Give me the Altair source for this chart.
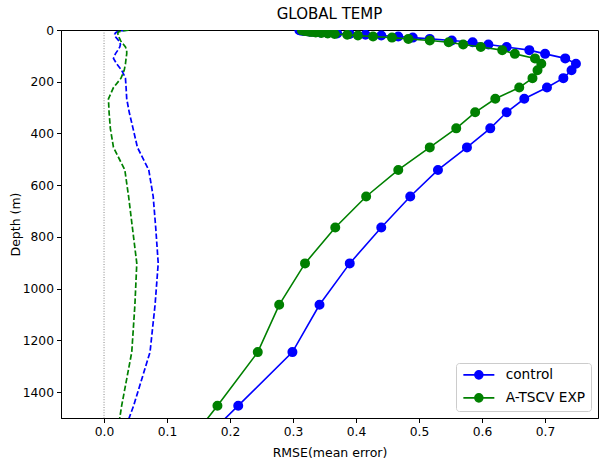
import altair as alt
import pandas as pd

depth = [0.5, 1.5, 2.6, 3.8, 5.1, 6.4, 7.9, 9.6, 11.4, 13.5, 15.8, 18.5, 21.6, 25.2,
         29.4, 34.4, 40.3, 47.4, 55.8, 65.8, 77.9, 92.3, 109.7, 130.7, 155.9, 186.1,
         222.5, 266.0, 318.1, 380.2, 453.9, 541.1, 643.6, 763.3, 902.3, 1062.4,
         1245.3, 1452.3, 1684.3]

control_rmse = [0.31, 0.312, 0.315, 0.318, 0.322, 0.327, 0.334, 0.343, 0.355, 0.37,
                0.39, 0.415, 0.44, 0.467, 0.49, 0.517, 0.552, 0.585, 0.61, 0.639,
                0.675, 0.70, 0.732, 0.749, 0.742, 0.729, 0.703, 0.667, 0.639, 0.613,
                0.576, 0.53, 0.486, 0.44, 0.39, 0.342, 0.299, 0.213, 0.116]

exp_rmse = [0.314, 0.316, 0.318, 0.32, 0.323, 0.326, 0.33, 0.336, 0.345, 0.355,
            0.366, 0.386, 0.403, 0.427, 0.457, 0.483, 0.517, 0.547, 0.57, 0.598,
            0.632, 0.652, 0.684, 0.694, 0.688, 0.68, 0.659, 0.621, 0.589, 0.559,
            0.517, 0.467, 0.416, 0.367, 0.319, 0.278, 0.244, 0.18, 0.106]

control_me = [0.036, 0.033, 0.030, 0.027, 0.024, 0.022, 0.020, 0.019, 0.018, 0.018,
              0.017, 0.017, 0.017, 0.018, 0.019, 0.021, 0.023, 0.025, 0.026, 0.025,
              0.022, 0.018, 0.015, 0.020, 0.028, 0.034, 0.035, 0.036, 0.040, 0.046,
              0.053, 0.071, 0.078, 0.082, 0.086, 0.081, 0.073, 0.047, 0.012]

exp_me = [0.039, 0.035, 0.031, 0.028, 0.026, 0.024, 0.023, 0.022, 0.022, 0.022,
          0.022, 0.023, 0.023, 0.023, 0.024, 0.025, 0.026, 0.028, 0.031, 0.034,
          0.036, 0.036, 0.035, 0.034, 0.032, 0.027, 0.015, 0.007, 0.008, 0.010,
          0.015, 0.033, 0.039, 0.045, 0.052, 0.049, 0.044, 0.028, 0.013]

series_names = ["control", "A-TSCV EXP"]
series_colors = ["#0000ff", "#008000"]
x_ticks = [0.0, 0.1, 0.2, 0.3, 0.4, 0.5, 0.6, 0.7]
y_ticks = [0, 200, 400, 600, 800, 1000, 1200, 1400]

rows = []
for name, rm, me in [(series_names[0], control_rmse, control_me),
                     (series_names[1], exp_rmse, exp_me)]:
    for i, d in enumerate(depth):
        rows.append({"series": name, "depth": d, "rmse": rm[i], "me": me[i], "order": i})
df = pd.DataFrame(rows)

xscale = alt.Scale(domain=[-0.0683, 0.784], nice=False, zero=False)
yscale = alt.Scale(domain=[1500, 0], nice=False, zero=False)
cscale = alt.Scale(domain=series_names, range=series_colors)

xenc = alt.X("rmse:Q", scale=xscale,
             axis=alt.Axis(values=x_ticks, format=".1f", title="RMSE(mean error)"))
yenc = alt.Y("depth:Q", scale=yscale,
             axis=alt.Axis(values=y_ticks, format="d", title="Depth (m)"))

legend = alt.Legend(title=None)

base = alt.Chart(df)
layers = []

zero_rule = alt.Chart(pd.DataFrame({"x0": [0.0]})).mark_rule(
    color="black", strokeWidth=0.6, strokeDash=[1, 1.6], opacity=0.8
).encode(x=alt.X("x0:Q", scale=xscale))
layers.append(zero_rule)

for name, col in zip(series_names, series_colors):
    sub = base.transform_filter(alt.datum.series == name)
    layers.append(sub.mark_line(strokeWidth=1.7, strokeDash=[5.6, 2.4], clip=True, color=col).encode(
        x=alt.X("me:Q", scale=xscale), y=alt.Y("depth:Q", scale=yscale), order="order:Q"))

for name in series_names:
    sub = base.transform_filter(alt.datum.series == name)
    layers.append(sub.mark_line(strokeWidth=1.6, clip=True).encode(
        x=xenc, y=yenc, order="order:Q",
        stroke=alt.Stroke("series:N", scale=cscale, legend=legend)))
    layers.append(sub.mark_point(filled=True, size=64, opacity=1, clip=True).encode(
        x=xenc, y=yenc,
        fill=alt.Fill("series:N", scale=cscale, legend=legend),
        stroke=alt.Stroke("series:N", scale=cscale, legend=legend)))

chart = alt.layer(*layers).properties(
    width=537, height=388,
    title=alt.TitleParams("GLOBAL TEMP", fontSize=15, fontWeight="normal",
                          font="DejaVu Sans", color="black", offset=2, anchor="middle"),
    autosize=alt.AutoSizeParams(type="none"),
    padding={"left": 61, "top": 30, "right": 1, "bottom": 46},
).configure_view(
    stroke="black", strokeWidth=1
).configure_axis(
    grid=False, domainColor="black", tickColor="black", tickSize=4.5,
    labelFont="DejaVu Sans", labelFontSize=12.3, labelColor="black",
    titleFont="DejaVu Sans", titleFontSize=12.5, titleFontWeight="normal",
    titleColor="black", labelPadding=3,
).configure_axisY(
    titlePadding=0
).configure_axisX(
    titlePadding=9
).configure_legend(
    orient="none", legendX=395, legendY=333,
    padding=5, strokeColor="#cccccc", fillColor="white", cornerRadius=3,
    labelFont="DejaVu Sans", labelFontSize=13.7, labelColor="black",
    symbolType="M-3.1,0L3.1,0M-0.8,0A0.8,0.8,0,1,1,0.8,0A0.8,0.8,0,1,1,-0.8,0Z",
    symbolSize=100, symbolStrokeWidth=1.6, symbolOffset=11, labelOffset=20,
    rowPadding=7,
)

chart.save("out.html", embed_options={"renderer": "svg", "actions": False})
